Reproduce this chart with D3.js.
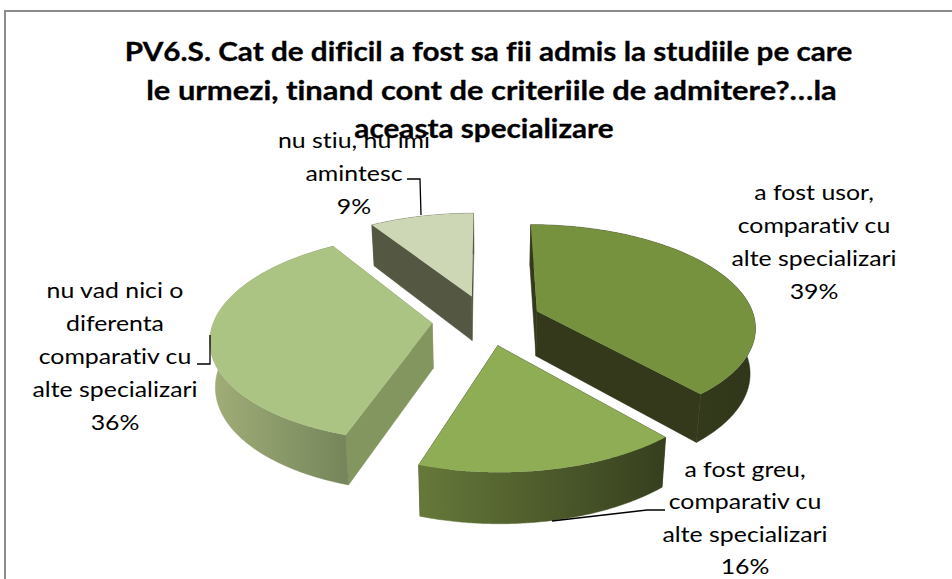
<!DOCTYPE html>
<html><head><meta charset="utf-8">
<script src="https://cdn.jsdelivr.net/npm/d3@7"></script>
<style>html,body{margin:0;padding:0;background:#fff}svg{display:block}text{font-variant-ligatures:none}</style>
</head><body>
<script>
const titleLines = ["PV6.S. Cat de dificil a fost sa fii admis la studiile pe care","le urmezi, tinand cont de criteriile de admitere?…la","aceasta specializare"];
const categories = ["a fost usor, comparativ cu alte specializari","a fost greu, comparativ cu alte specializari","nu vad nici o diferenta comparativ cu alte specializari","nu stiu, nu imi amintesc"];
const values = [38.6,16.4,36,9];
const percentLabels = ["39%","16%","36%","9%"];
const labelLines = [["a fost usor,","comparativ cu","alte specializari"],["a fost greu,","comparativ cu","alte specializari"],["nu vad nici o","diferenta","comparativ cu","alte specializari"],["nu stiu, nu imi","amintesc"]];
const topColors = ["#77923f","#8fad54","#abc483","#cdd7b5"];
const faceColors = ["#33391a","#3a4220","#84965f","#545842"];
const wallFrom = ["#33391a","#66793a","#a1ae79","#545842"];
const wallTo = ["#30361a","#363f1e","#76865a","#545842"];

const W=952,H=579;
const svg=d3.select("body").append("svg").attr("width",W).attr("height",H);
const frame=d3.path(); frame.moveTo(5,H); frame.lineTo(5,11); frame.lineTo(W,11);
svg.append("path").attr("d",frame.toString()).attr("fill","none").attr("stroke","#8a8a8a").attr("stroke-width",2);

const cx=486.5, cy=320, Rx=218, Ry=101, persp=0.14, depth=45, backScale=0.98, explode=0.25;
const pie=d3.pie().sort(null).value(d=>d)(values);
function project(X,Y,bottom){
  const w=1-persp*Y, s=bottom?backScale:1;
  return [cx+s*Rx*X/w, cy+(s*Ry*Y+(bottom?depth:0))/w];
}
const line=d3.line();
const defs=svg.append("defs");
const order=[3,2,0,1];
const g=svg.append("g");
order.forEach(i=>{
  const a=pie[i], mid=(a.startAngle+a.endAngle)/2;
  const ax=explode*Math.sin(mid), ay=-explode*Math.cos(mid);
  const pt=(t,b)=>project(ax+Math.sin(t),ay-Math.cos(t),b);
  const apex=b=>project(ax,ay,b);
  const ts=d3.range(0,121).map(k=>a.startAngle+(a.endAngle-a.startAngle)*k/120);
  const vis=ts.filter(t=>-Math.cos(t)>-0.05);
  const xs=(vis.length?vis:ts).map(t=>pt(t,false)[0]);
  const id="wall"+i;
  const grad=defs.append("linearGradient").attr("id",id).attr("gradientUnits","userSpaceOnUse")
    .attr("x1",d3.min(xs)).attr("x2",d3.max(xs)).attr("y1",0).attr("y2",0);
  grad.append("stop").attr("offset",0).attr("stop-color",wallFrom[i]);
  grad.append("stop").attr("offset",1).attr("stop-color",wallTo[i]);
  [a.startAngle,a.endAngle].forEach(t=>{
    g.append("path").attr("d",line([apex(false),pt(t,false),pt(t,true),apex(true)])+"Z")
      .attr("fill",faceColors[i]).attr("stroke",faceColors[i]).attr("stroke-width",0.5);
  });
  const wall=[...ts.map(t=>pt(t,false)),...ts.slice().reverse().map(t=>pt(t,true))];
  g.append("path").attr("d",line(wall)+"Z").attr("fill",`url(#${id})`).attr("stroke",`url(#${id})`).attr("stroke-width",0.5);
  const top=[apex(false),...ts.map(t=>pt(t,false))];
  g.append("path").attr("d",line(top)+"Z").attr("fill",topColors[i]);
});

const leaders=[[[665,510],[647,510],[552,521]],[[197,364],[210,364],[210,335]],[[407,179],[420,179],[421,215]]];
svg.append("g").selectAll("path").data(leaders).join("path").attr("d",d=>line(d)).attr("fill","none").attr("stroke","#000").attr("stroke-width",1.3);

const font="Lato, Carlito, Calibri, sans-serif";
const titleX=[488.5,491.5,484], titleScale=[1.1,1.145,1.1], labelScale=1.13;
svg.append("g").selectAll("text").data(titleLines).join("text")
  .attr("transform",(d,i)=>`translate(${titleX[i]},${61+i*38.5}) scale(${titleScale[i]},1)`).attr("text-anchor","middle")
  .attr("font-family",font).attr("font-weight",700).attr("font-size",27).attr("fill","#000")
  .attr("stroke","#000").attr("stroke-width",0.3).text(d=>d);

const labelPos=[{x:814,y:199.5,gap:33},{x:745,y:477,gap:32.3},{x:115,y:298,gap:33},{x:354,y:148,gap:33}];
labelLines.forEach((ls,i)=>{
  const all=[...ls,percentLabels[i]];
  svg.append("g").selectAll("text").data(all).join("text")
    .attr("transform",(d,k)=>`translate(${labelPos[i].x},${labelPos[i].y+k*labelPos[i].gap}) scale(${labelScale},1)`).attr("text-anchor","middle")
    .attr("font-family",font).attr("font-size",22).attr("fill","#000").text(d=>d);
});
</script>
</body></html>
